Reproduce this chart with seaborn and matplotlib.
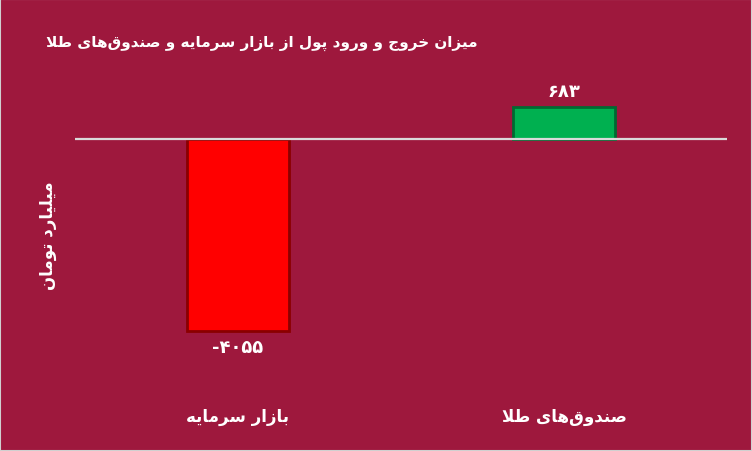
import matplotlib
matplotlib.use("Agg")
import matplotlib.pyplot as plt
import seaborn as sns
import pandas as pd

title = "میزان خروج و ورود پول از بازار سرمایه و صندوق‌های طلا"
y_label = "میلیارد تومان"
categories = ["بازار سرمایه", "صندوق‌های طلا"]
values = [-4055, 683]
bar_colors = ["#FF0000", "#00B050"]
edge_colors = ["#8A0000", "#006A32"]

BG = "#9E183D"

# matplotlib does no Arabic shaping, so pick presentation forms by hand
# (isolated, final, initial, medial)
FORMS = {
    "ا": "\uFE8D\uFE8E", "د": "\uFEA9\uFEAA", "ر": "\uFEAD\uFEAE",
    "ز": "\uFEAF\uFEB0", "و": "\uFEED\uFEEE",
    "ب": "\uFE8F\uFE90\uFE91\uFE92", "ت": "\uFE95\uFE96\uFE97\uFE98",
    "ج": "\uFE9D\uFE9E\uFE9F\uFEA0", "خ": "\uFEA5\uFEA6\uFEA7\uFEA8",
    "س": "\uFEB1\uFEB2\uFEB3\uFEB4", "ص": "\uFEB9\uFEBA\uFEBB\uFEBC",
    "ط": "\uFEC1\uFEC2\uFEC3\uFEC4", "ق": "\uFED5\uFED6\uFED7\uFED8",
    "ل": "\uFEDD\uFEDE\uFEDF\uFEE0", "م": "\uFEE1\uFEE2\uFEE3\uFEE4",
    "ن": "\uFEE5\uFEE6\uFEE7\uFEE8", "ه": "\uFEE9\uFEEA\uFEEB\uFEEC",
    "ی": "\uFEEF\uFEF0\uFEF3\uFEF4", "پ": "\uFB56\uFB57\uFB58\uFB59",
}


def dual(c):
    return c in FORMS and len(FORMS[c]) == 4


def shape(text):
    out = []
    i = 0
    while i < len(text):
        c = text[i]
        prev = text[i - 1] if i > 0 else ""
        joins_prev = dual(prev)
        if c == "ل" and i + 1 < len(text) and text[i + 1] == "ا":
            out.append("\uFEFC" if joins_prev else "\uFEFB")
            i += 2
            continue
        if c not in FORMS:
            if c != "\u200c":
                out.append(c)
            i += 1
            continue
        nxt = text[i + 1] if i + 1 < len(text) else ""
        joins_next = dual(c) and nxt in FORMS
        f = FORMS[c]
        if joins_prev and joins_next:
            out.append(f[3])
        elif joins_next:
            out.append(f[2])
        elif joins_prev:
            out.append(f[1])
        else:
            out.append(f[0])
        i += 1
    return "".join(reversed(out))


def fa_num(v):
    return str(v).translate(str.maketrans("0123456789", "۰۱۲۳۴۵۶۷۸۹"))


df = pd.DataFrame({"cat": [shape(c) for c in categories], "val": values})

plt.rcParams["font.family"] = ["DejaVu Sans"]
fig = plt.figure(figsize=(7.52, 4.52), dpi=100, facecolor=BG)
ax = fig.add_axes([0.0997, 0.2478, 0.8671, 0.531])
ax.set_facecolor(BG)

sns.barplot(data=df, x="cat", y="val", hue="cat", palette=bar_colors,
            saturation=1, legend=False, width=0.31, ax=ax)
for patch, ec in zip(ax.patches, edge_colors):
    patch.set_edgecolor(ec)
    patch.set_linewidth(2)

ax.axhline(0, color="#DADADA", lw=1.6, zorder=5)
ax.set_xlim(-0.5, 1.5)
ax.set_ylim(-4224, 845)

for i, v in enumerate(values):
    off = 140 if v > 0 else -140
    ax.text(i, v + off, fa_num(v), ha="center", va="bottom" if v > 0 else "top",
            color="white", fontsize=13, fontweight="bold")

for s in ax.spines.values():
    s.set_visible(False)
ax.set_yticks([])
ax.tick_params(axis="x", length=0, pad=49, labelsize=12, labelcolor="white")
for t in ax.get_xticklabels():
    t.set_fontweight("bold")
ax.set_xlabel("")
ax.set_ylabel("")

fig.text(0.348, 0.905, shape(title), ha="center", va="center", color="white",
         fontsize=11, fontweight="bold")
fig.text(0.064, 0.478, shape(y_label), ha="center", va="center", color="white",
         fontsize=12, fontweight="bold", rotation=90)

fig.patches.append(plt.Rectangle((0, 0), 1, 1, transform=fig.transFigure,
                                 fill=False, edgecolor="#D0D0D0", lw=1.5))

fig.savefig("out.png", dpi=100, facecolor=BG)
